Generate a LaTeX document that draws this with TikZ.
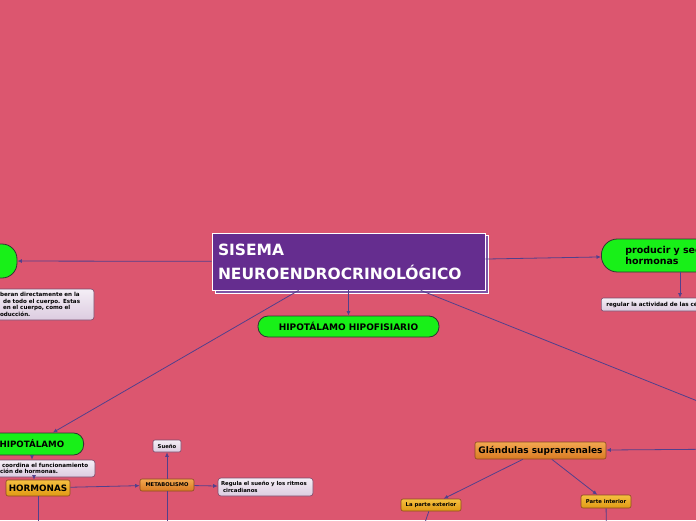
\documentclass[tikz,border=0pt]{standalone}
\usepackage{fontspec}
\setmainfont{DejaVu Sans}
\usetikzlibrary{arrows.meta}
\definecolor{bg}{HTML}{DC566F}
\definecolor{lc}{HTML}{52408C}
\definecolor{gr}{HTML}{18F018}
\definecolor{purp}{HTML}{652D8F}
\definecolor{purpsh}{HTML}{7E55A6}
\definecolor{lavt}{HTML}{F4EEF6}
\definecolor{lavb}{HTML}{DCCCE0}
\definecolor{lavd}{HTML}{7A4A6A}
\definecolor{ort}{HTML}{F2A850}
\definecolor{orb}{HTML}{D97A22}
\definecolor{yet}{HTML}{F5C040}
\definecolor{yeb}{HTML}{E09A14}
\definecolor{ord}{HTML}{8A4A20}
\begin{document}
\begin{tikzpicture}[x=1pt,y=-1pt,
  conn/.style={draw=lc,line width=0.8pt,-{Latex[length=4.5pt,width=4pt]}},
  plain/.style={draw=lc,line width=0.8pt},
  centralbox/.style={draw=white,line width=0.8pt,fill=purp,text=white,
    font=\bfseries\fontsize{15.5}{24}\selectfont,inner ysep=0pt},
  greenpill/.style={draw=black!80,fill=gr,line width=0.8pt,
    font=\bfseries\fontsize{9}{11}\selectfont,inner sep=0pt},
  lavbox/.style={draw=lavd,line width=0.6pt,top color=lavt,bottom color=lavb,
    rounded corners=3pt,font=\bfseries\fontsize{5.6}{6.7}\selectfont,inner ysep=0pt,align=left},
  orbox/.style={draw=ord,line width=0.6pt,top color=ort,bottom color=orb,
    rounded corners=2pt,inner sep=0pt},
  yebox/.style={draw=ord,line width=0.6pt,top color=yet,bottom color=yeb,
    rounded corners=2pt,inner sep=0pt}]
\useasboundingbox (0,0) rectangle (696,520);
\fill[bg] (0,0) rectangle (696,520);
\clip (0,0) rectangle (696,520);

% central node with shadow
\filldraw[fill=purpsh,draw=white,line width=0.6pt] (215.5,235.5) rectangle (488.5,293.5);
\node[centralbox,minimum width=273pt,minimum height=57pt,text width=261pt,
  inner xsep=6pt,align=left] (c) at (348.5,261.5) {SISEMA\\NEUROENDROCRINOLÓGICO};

% left side
\node[greenpill,minimum width=50pt,minimum height=34pt,rounded corners=15pt] (lg) at (-8,261) {};
\node[lavbox,minimum height=31pt,text width=90pt,inner xsep=4pt] (lav1) at (45,304.5)
  {beran directamente en la\\\hspace*{3pt}de todo el cuerpo. Estas\\\hspace*{3pt}en el cuerpo, como el\\oducción.};

% right side
\node[greenpill,anchor=west,minimum height=33pt,rounded corners=16pt,text width=110pt,
  inner xsep=24pt,align=left,font=\bfseries\fontsize{9.5}{11.5}\selectfont] (rg) at (601,255.5)
  {producir y secretar\\hormonas};
\node[lavbox,anchor=west,minimum height=13pt,inner xsep=5pt,rounded corners=2pt,
  font=\bfseries\fontsize{5.6}{6}\selectfont] (rb) at (601,304.5)
  {regular la actividad de las células};

% center bottom
\node[greenpill,minimum width=181pt,minimum height=21pt,rounded corners=10pt] (hh) at (348.5,326.5)
  {HIPOTÁLAMO HIPOFISIARIO};

% hipotalamo branch
\node[greenpill,anchor=east,minimum height=22pt,rounded corners=10pt,text width=67pt,
  inner xsep=17pt,align=left,font=\bfseries\fontsize{8.7}{10}\selectfont] (hp) at (84,444) {HIPOTÁLAMO};
\node[lavbox,minimum height=17pt,text width=91pt,inner xsep=4pt] (lav2) at (45.5,468.5)
  {\hspace*{2pt}coordina el funcionamiento\\ción de hormonas.};
\node[yebox,minimum width=64pt,minimum height=16pt,font=\bfseries\fontsize{8.8}{10}\selectfont] (hor) at (38,488) {HORMONAS};
\node[orbox,minimum width=54pt,minimum height=12pt,font=\bfseries\fontsize{5.2}{6}\selectfont] (met) at (167,485) {METABOLISMO};
\node[lavbox,minimum width=28pt,minimum height=12pt,inner xsep=0pt,rounded corners=2pt,
  font=\bfseries\fontsize{5.3}{6}\selectfont] (su) at (167,446) {Sueño};
\node[lavbox,minimum height=18pt,text width=89pt,inner xsep=3pt,
  font=\bfseries\fontsize{5.4}{6.6}\selectfont] (reg) at (265.5,487)
  {\mbox{Regula el sueño y los ritmos}\\\mbox{\hspace*{2pt}circadianos}};

% glandulas branch
\node[orbox,minimum width=131pt,minimum height=17pt,font=\bfseries\fontsize{9}{10}\selectfont] (gl) at (540.5,450.5) {Glándulas suprarrenales};
\node[yebox,minimum width=60pt,minimum height=12pt,font=\bfseries\fontsize{5.3}{6}\selectfont] (pe) at (431,505) {La parte exterior};
\node[yebox,minimum width=50pt,minimum height=13pt,font=\bfseries\fontsize{5.3}{6}\selectfont] (pi) at (606,501.5) {Parte interior};

% helper coordinates
\coordinate (offA) at (760,426);
\coordinate (offB) at (740,449);
\coordinate (botH) at (38,540);
\coordinate (botM) at (167,540);
\coordinate (botL) at (419,540);
\coordinate (botP) at (606.5,540);
\coordinate (xr) at (680,0);
\coordinate (xh) at (32,0);
\coordinate (xh2) at (34,0);

% connectors
\draw[conn] (c) -- (lg);
\draw[conn] (c) -- (rg);
\draw[conn] (c) -- (hh);
\draw[conn] (c) -- (hp);
\draw[plain] (c) -- (offA);
\draw[conn] (rg.south -| xr) -- (rb.north -| xr);
\draw[conn] (hp.south -| xh) -- (lav2.north -| xh);
\draw[conn] (lav2.south -| xh2) -- (hor.north -| xh2);
\draw[conn] (hor) -- (met);
\draw[plain] (hor) -- (botH);
\draw[conn] (met) -- (su);
\draw[conn] (met) -- (reg);
\draw[plain] (met) -- (botM);
\draw[conn] (offB) -- (gl);
\draw[conn] (gl) -- (pe);
\draw[conn] (gl) -- (pi);
\draw[plain] (pe) -- (botL);
\draw[plain] (pi) -- (botP);
\end{tikzpicture}
\end{document}
